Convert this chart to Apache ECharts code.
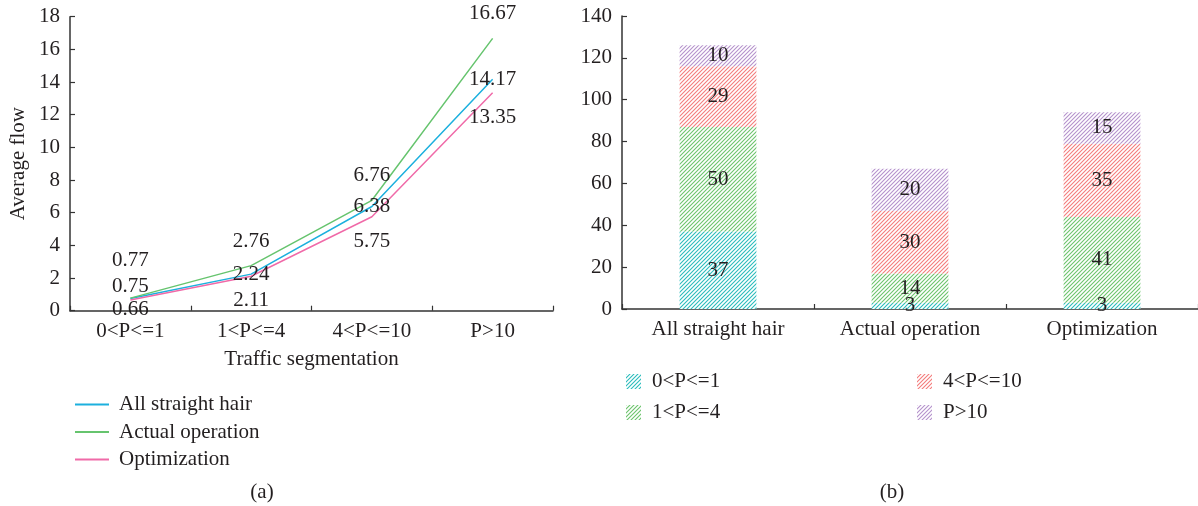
<!DOCTYPE html>
<html>
<head>
<meta charset="utf-8">
<script src="https://cdn.jsdelivr.net/npm/echarts@6/dist/echarts.min.js"></script>
<style>
  html, body { margin: 0; padding: 0; background: #fff; }
  #chart-container { width: 1198px; height: 506px; }
</style>
</head>
<body>
<div id="chart-container"></div>
<script>
// ---- data ----
var segments = ['0<P<=1', '1<P<=4', '4<P<=10', 'P>10'];
var lineNames = ['All straight hair', 'Actual operation', 'Optimization'];
var straightFlow = [0.75, 2.24, 6.38, 14.17];
var actualFlow = [0.77, 2.76, 6.76, 16.67];
var optimFlow = [0.66, 2.11, 5.75, 13.35];

var schemes = ['All straight hair', 'Actual operation', 'Optimization'];
var seg1 = [37, 3, 3];
var seg2 = [50, 14, 41];
var seg3 = [29, 30, 35];
var seg4 = [10, 20, 15];

var FONT = '"Liberation Serif", "DejaVu Serif", serif';
var TXT = '#231f20';
var FS = 21;

var dom = document.getElementById('chart-container');
var myChart = echarts.init(dom, null, { renderer: 'canvas' });

// diagonal hatch fill for the stacked bars
function hatch(color) {
  var c = document.createElement('canvas');
  c.width = 4;
  c.height = 4;
  var ctx = c.getContext('2d');
  ctx.fillStyle = '#fff';
  ctx.fillRect(0, 0, 4, 4);
  ctx.strokeStyle = color;
  ctx.lineWidth = 1.1;
  ctx.beginPath();
  ctx.moveTo(0, 4); ctx.lineTo(4, 0);
  ctx.moveTo(-1, 1); ctx.lineTo(1, -1);
  ctx.moveTo(3, 5); ctx.lineTo(5, 3);
  ctx.stroke();
  return { image: c, repeat: 'repeat' };
}

// first point labels sit a bit higher in the original
function lineData(values, firstShift) {
  return values.map(function (v, i) {
    if (i === 0) return { value: v, label: { offset: [0, firstShift] } };
    return v;
  });
}

var axisLine = { show: true, lineStyle: { color: '#333', width: 1.5 } };
var axisTick = { show: true, inside: true, length: 5, lineStyle: { color: '#333', width: 1.2 } };
var axisLabel = { color: TXT, fontFamily: FONT, fontSize: FS, margin: 10 };

var lineColors = ['#1cb0de', '#66c46e', '#f06aa8'];
var barColors = ['#2bbcbc', '#6cc46c', '#f47c7c', '#b592cc'];

function barSeries(name, values, idx) {
  return {
    name: name,
    type: 'bar',
    stack: 'total',
    xAxisIndex: 1,
    yAxisIndex: 1,
    barWidth: '40%',
    itemStyle: { color: hatch(barColors[idx]) },
    label: {
      show: true,
      position: 'inside',
      color: TXT,
      fontFamily: FONT,
      fontSize: FS
    },
    data: values
  };
}

var lineLabel = { show: true, color: TXT, fontFamily: FONT, fontSize: FS };
var titleText = { fontFamily: FONT, fontSize: FS, fontWeight: 'normal', color: TXT };

var option = {
  animation: false,
  textStyle: { fontFamily: FONT },
  title: [
    { text: '(a)', left: 257, top: 477, textAlign: 'center', textStyle: titleText },
    { text: '(b)', left: 887, top: 477, textAlign: 'center', textStyle: titleText }
  ],
  legend: [
    {
      data: lineNames,
      orient: 'vertical',
      left: 70,
      top: 389,
      icon: 'rect',
      itemWidth: 34,
      itemHeight: 2,
      itemGap: 6.5,
      textStyle: { fontFamily: FONT, fontSize: FS, color: TXT, lineHeight: 20, padding: [0, 0, 0, 5] }
    },
    {
      data: ['0<P<=1', '1<P<=4'],
      orient: 'vertical',
      left: 621,
      top: 366,
      icon: 'rect',
      itemWidth: 15,
      itemHeight: 15,
      itemGap: 10,
      textStyle: { fontFamily: FONT, fontSize: FS, color: TXT, lineHeight: 20, padding: [0, 0, 0, 6] }
    },
    {
      data: ['4<P<=10', 'P>10'],
      orient: 'vertical',
      left: 912,
      top: 366,
      icon: 'rect',
      itemWidth: 15,
      itemHeight: 15,
      itemGap: 10,
      textStyle: { fontFamily: FONT, fontSize: FS, color: TXT, lineHeight: 20, padding: [0, 0, 0, 6] }
    }
  ],
  grid: [
    { left: 70, right: 645, top: 16.7, bottom: 195.3 },
    { left: 622, right: 0, top: 16, bottom: 197 }
  ],
  xAxis: [
    {
      type: 'category',
      gridIndex: 0,
      data: segments,
      axisLine: axisLine,
      axisTick: axisTick,
      axisLabel: axisLabel,
      name: 'Traffic segmentation',
      nameLocation: 'middle',
      nameGap: 38,
      nameTextStyle: { color: TXT, fontFamily: FONT, fontSize: FS }
    },
    {
      type: 'category',
      gridIndex: 1,
      data: schemes,
      axisLine: axisLine,
      axisTick: axisTick,
      axisLabel: axisLabel
    }
  ],
  yAxis: [
    {
      type: 'value',
      gridIndex: 0,
      min: 0,
      max: 18,
      interval: 2,
      splitLine: { show: false },
      axisLine: axisLine,
      axisTick: axisTick,
      axisLabel: axisLabel,
      name: 'Average flow',
      nameLocation: 'middle',
      nameGap: 41,
      nameTextStyle: { color: TXT, fontFamily: FONT, fontSize: FS }
    },
    {
      type: 'value',
      gridIndex: 1,
      min: 0,
      max: 140,
      interval: 20,
      splitLine: { show: false },
      axisLine: axisLine,
      axisTick: axisTick,
      axisLabel: axisLabel
    }
  ],
  series: [
    {
      name: lineNames[0],
      type: 'line',
      symbol: 'circle',
      symbolSize: 0,
      color: lineColors[0],
      lineStyle: { width: 1.5 },
      label: Object.assign({ position: 'inside' }, lineLabel),
      data: lineData(straightFlow, -12)
    },
    {
      name: lineNames[1],
      type: 'line',
      symbol: 'circle',
      symbolSize: 0,
      color: lineColors[1],
      lineStyle: { width: 1.5 },
      label: Object.assign({ position: 'top', distance: 14 }, lineLabel),
      data: lineData(actualFlow, -13)
    },
    {
      name: lineNames[2],
      type: 'line',
      symbol: 'circle',
      symbolSize: 0,
      color: lineColors[2],
      lineStyle: { width: 1.5 },
      label: Object.assign({ position: 'bottom', distance: 14 }, lineLabel),
      data: lineData(optimFlow, -15)
    },
    barSeries(segments[0], seg1, 0),
    barSeries(segments[1], seg2, 1),
    barSeries(segments[2], seg3, 2),
    barSeries(segments[3], seg4, 3)
  ]
};

myChart.setOption(option);
window.addEventListener('resize', myChart.resize);
</script>
</body>
</html>
